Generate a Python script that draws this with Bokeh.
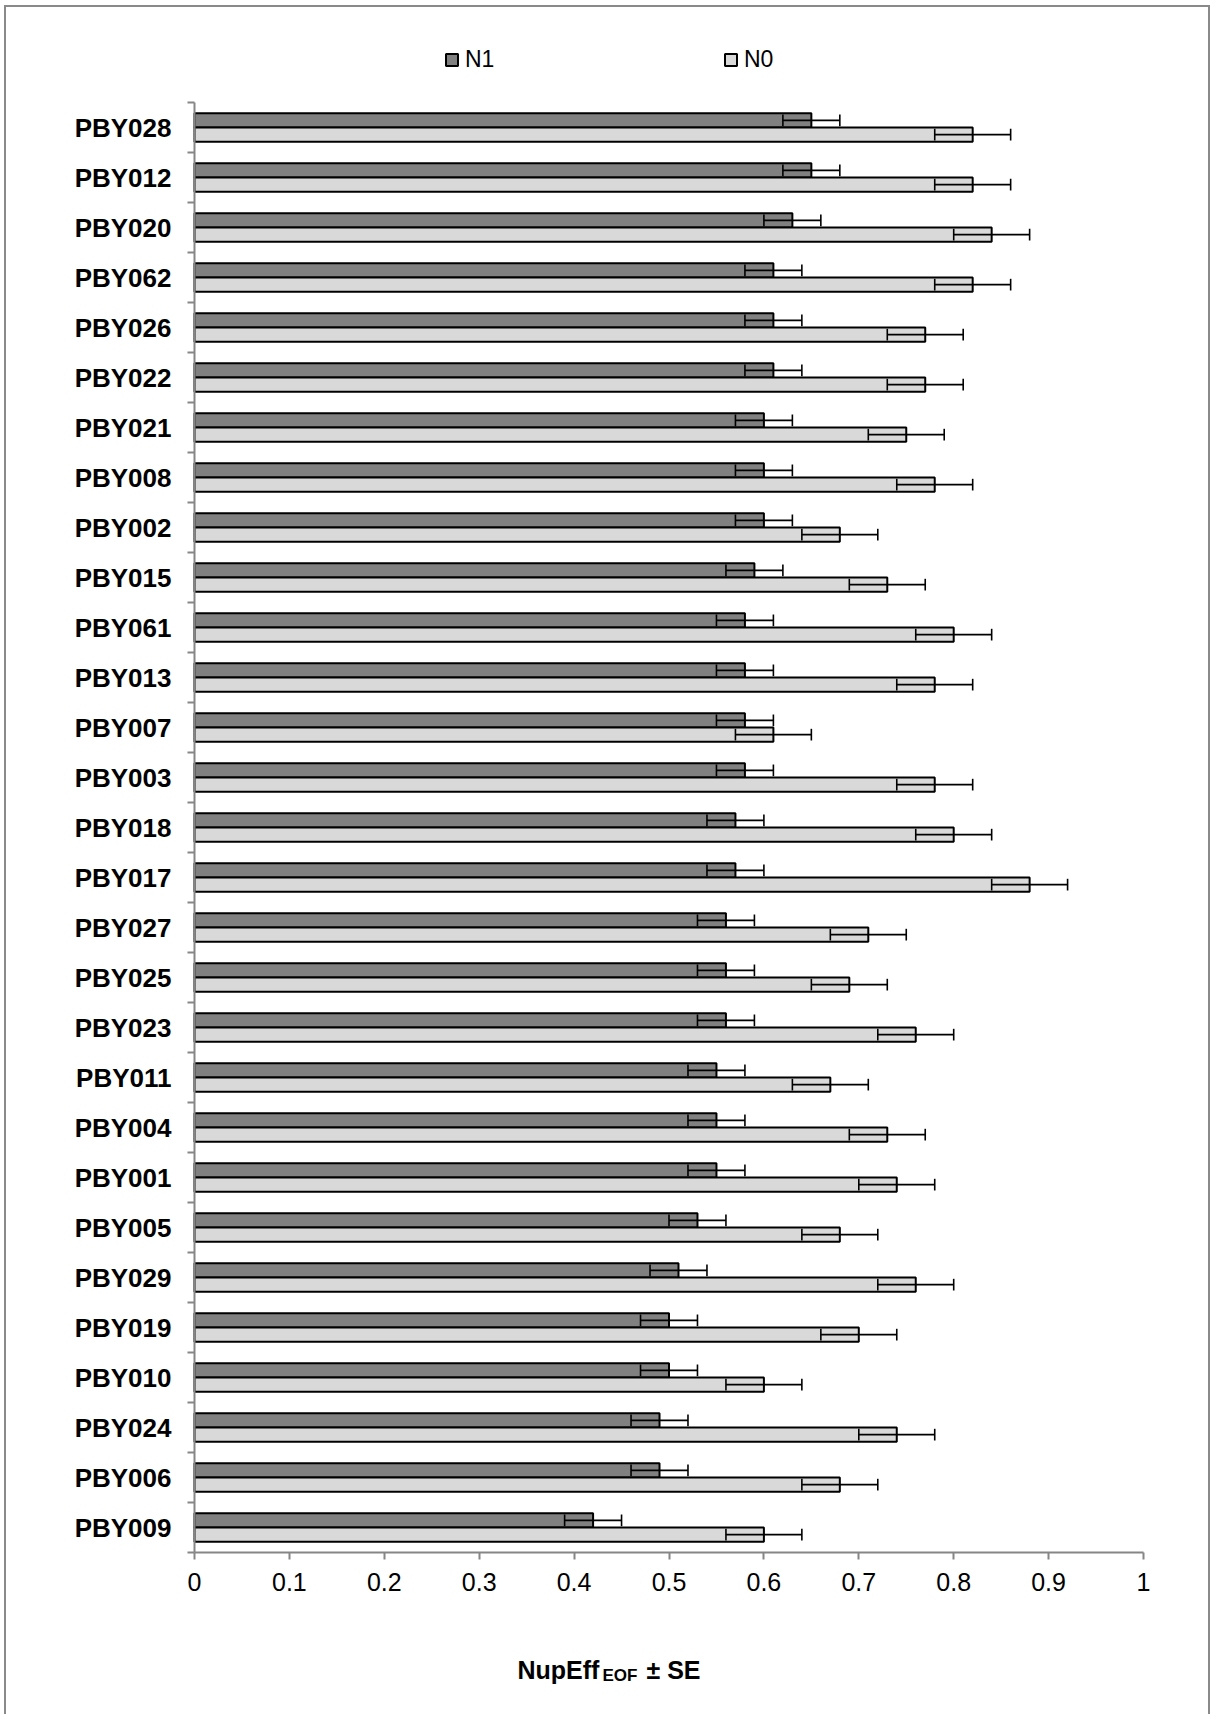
from bokeh.plotting import figure
from bokeh.models import ColumnDataSource, Range1d, FixedTicker, Legend, LegendItem, Label
from bokeh.transform import dodge
from bokeh.embed import file_html
from bokeh.resources import INLINE

# ---------------- data (top to bottom) ----------------
categories = ["PBY028", "PBY012", "PBY020", "PBY062", "PBY026", "PBY022", "PBY021",
              "PBY008", "PBY002", "PBY015", "PBY061", "PBY013", "PBY007", "PBY003",
              "PBY018", "PBY017", "PBY027", "PBY025", "PBY023", "PBY011", "PBY004",
              "PBY001", "PBY005", "PBY029", "PBY019", "PBY010", "PBY024", "PBY006",
              "PBY009"]
n1 = [0.65, 0.65, 0.63, 0.61, 0.61, 0.61, 0.60, 0.60, 0.60, 0.59, 0.58, 0.58, 0.58, 0.58,
      0.57, 0.57, 0.56, 0.56, 0.56, 0.55, 0.55, 0.55, 0.53, 0.51, 0.50, 0.50, 0.49, 0.49,
      0.42]
n0 = [0.82, 0.82, 0.84, 0.82, 0.77, 0.77, 0.75, 0.78, 0.68, 0.73, 0.80, 0.78, 0.61, 0.78,
      0.80, 0.88, 0.71, 0.69, 0.76, 0.67, 0.73, 0.74, 0.68, 0.76, 0.70, 0.60, 0.74, 0.68,
      0.60]
n1_se = [0.03, 0.03, 0.03, 0.03, 0.03, 0.03, 0.03, 0.03, 0.03, 0.03, 0.03, 0.03, 0.03, 0.03,
         0.03, 0.03, 0.03, 0.03, 0.03, 0.03, 0.03, 0.03, 0.03, 0.03, 0.03, 0.03, 0.03, 0.03,
         0.03]
n0_se = [0.04, 0.04, 0.04, 0.04, 0.04, 0.04, 0.04, 0.04, 0.04, 0.04, 0.04, 0.04, 0.04, 0.04,
         0.04, 0.04, 0.04, 0.04, 0.04, 0.04, 0.04, 0.04, 0.04, 0.04, 0.04, 0.04, 0.04, 0.04,
         0.04]
series_names = ["N1", "N0"]
x_ticks = [0, 0.1, 0.2, 0.3, 0.4, 0.5, 0.6, 0.7, 0.8, 0.9, 1]
x_tick_labels = ["0", "0.1", "0.2", "0.3", "0.4", "0.5", "0.6", "0.7", "0.8", "0.9", "1"]

# ---------------- layout ----------------
n = len(categories)
ypos = [n - 1 - i + 0.5 for i in range(n)]
boundaries = list(range(n + 1))

src = ColumnDataSource(dict(
    cat=categories, y=ypos, n1=n1, n0=n0,
    n1_lo=[v - s for v, s in zip(n1, n1_se)], n1_hi=[v + s for v, s in zip(n1, n1_se)],
    n0_lo=[v - s for v, s in zip(n0, n0_se)], n0_hi=[v + s for v, s in zip(n0, n0_se)],
))

FONT = "Liberation Sans"
GRAY = "#868686"

W, H = 1206, 1709
p = figure(width=W, height=H, x_range=Range1d(-0.1981, 1.0727), y_range=Range1d(-3.28, 30.9),
           output_backend="svg", toolbar_location=None,
           min_border_left=0, min_border_right=0, min_border_top=0, min_border_bottom=0)
p.styles = {"border": "2px solid #8a8a8a", "border-bottom": "none",
            "margin-left": "4px", "margin-top": "5px"}
p.outline_line_color = None
p.grid.visible = False
p.background_fill_color = "white"
p.border_fill_color = "white"

OFF = 0.143
BH = 0.286
CAP = 0.117

r1 = p.hbar(y=dodge("y", OFF), left=0, right="n1", height=BH, source=src,
            fill_color="#808080", line_color="black", line_width=2)
r0 = p.hbar(y=dodge("y", -OFF), left=0, right="n0", height=BH, source=src,
            fill_color="#d9d9d9", line_color="black", line_width=2)

for pre, off in (("n1", OFF), ("n0", -OFF)):
    p.segment(x0=f"{pre}_lo", x1=f"{pre}_hi", y0=dodge("y", off), y1=dodge("y", off),
              source=src, line_color="black", line_width=1.6)
    for end in ("lo", "hi"):
        p.segment(x0=f"{pre}_{end}", x1=f"{pre}_{end}",
                  y0=dodge("y", off - CAP), y1=dodge("y", off + CAP),
                  source=src, line_color="black", line_width=1.6)

# x axis (drawn at y = 0 inside the frame)
xa = p.xaxis[0]
xa.fixed_location = 0
xa.bounds = (0, 1)
xa.ticker = FixedTicker(ticks=x_ticks, minor_ticks=[])
xa.major_label_overrides = {t: l for t, l in zip(x_ticks, x_tick_labels)}
xa.axis_line_color = GRAY
xa.axis_line_width = 2
xa.major_tick_line_color = GRAY
xa.major_tick_line_width = 2
xa.major_tick_out = 7
xa.major_tick_in = 0
xa.minor_tick_line_color = None
xa.major_label_text_font = FONT
xa.major_label_text_font_size = "25px"
xa.major_label_text_color = "black"
xa.major_label_standoff = 13

# y axis (drawn at x = 0): labels at band centres, ticks at band boundaries
ya = p.yaxis[0]
ya.fixed_location = 0
ya.bounds = (0, n)
ya.ticker = FixedTicker(ticks=ypos, minor_ticks=boundaries)
ya.major_label_overrides = {t: c for t, c in zip(ypos, categories)}
ya.axis_line_color = GRAY
ya.axis_line_width = 2
ya.major_tick_line_color = None
ya.major_tick_out = 0
ya.major_tick_in = 0
ya.minor_tick_line_color = GRAY
ya.minor_tick_line_width = 2
ya.minor_tick_out = 7
ya.minor_tick_in = 0
ya.major_label_text_font = FONT
ya.major_label_text_font_style = "bold"
ya.major_label_text_font_size = "26px"
ya.major_label_text_color = "black"
ya.major_label_standoff = 16

# legends
for r, name, lx in ((r1, series_names[0], 438), (r0, series_names[1], 717)):
    lg = Legend(items=[LegendItem(label=name, renderers=[r])], location=(lx, 1643),
                orientation="horizontal", padding=0, margin=0, spacing=0,
                border_line_color=None, background_fill_alpha=0,
                glyph_width=15, glyph_height=15, label_standoff=6,
                label_text_font=FONT, label_text_font_size="23px",
                label_text_color="black")
    p.add_layout(lg, "center")

# x-axis title with subscript
for txt, lx, ly, fs in (("NupEff", 511, 47, "25px"),
                        ("EOF", 596, 41, "17px"),
                        ("\u00b1 SE", 640, 47, "25px")):
    p.add_layout(Label(x=lx, y=ly, x_units="screen", y_units="screen", text=txt,
                       text_font=FONT, text_font_style="bold", text_font_size=fs,
                       text_color="black", text_baseline="alphabetic", text_align="left"))

open("out.html", "w").write(file_html(p, INLINE))
